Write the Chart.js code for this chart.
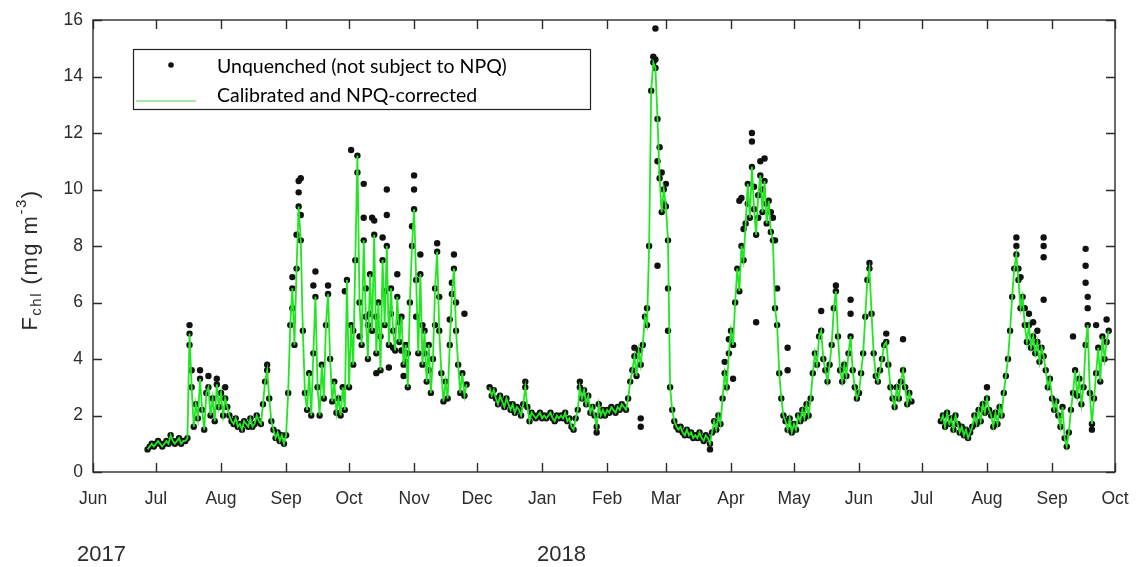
<!DOCTYPE html>
<html>
<head>
<meta charset="utf-8">
<title>Fchl time series</title>
<script src="https://cdn.jsdelivr.net/npm/chart.js@4.4.1/dist/chart.umd.min.js"></script>
<style>
  html, body { margin: 0; padding: 0; background: #ffffff; }
  #wrap { width: 1136px; height: 567px; }
</style>
</head>
<body>
<div id="wrap"><canvas id="fchl" width="1136" height="567"></canvas></div>
<script>
// ---- axis labels -------------------------------------------------------
const monthTicks = ['2017-06-01','2017-07-01','2017-08-01','2017-09-01','2017-10-01','2017-11-01',
  '2017-12-01','2018-01-01','2018-02-01','2018-03-01','2018-04-01','2018-05-01','2018-06-01',
  '2018-07-01','2018-08-01','2018-09-01','2018-10-01'];
const monthLabels = ['Jun','Jul','Aug','Sep','Oct','Nov','Dec','Jan','Feb','Mar','Apr','May','Jun',
  'Jul','Aug','Sep','Oct'];
const yearDates = ['2017-06-01', '2018-01-01'];
const yearTexts = ['2017', '2018'];
const legendLabels = ['Unquenched (not subject to NPQ)', 'Calibrated and NPQ-corrected'];

// ---- calibrated, NPQ-corrected Fchl (mg m-3), daily, three deployments ----
const startA = '2017-06-27';
const correctedA = [
  0.8,0.9,1.0,0.9,
  1.0,1.1,1.0,0.9,1.0,1.1,1.0,1.3,1.1,1.0, 1.1,1.2,1.0,1.1,1.1,1.2,4.9,3.0,1.6,2.4,
  1.9,3.3,2.2,1.5,2.8,3.0,2.0,2.6,1.8,3.1, 2.3,
  2.8,2.0,2.6,2.3,2.0,1.8,1.7,1.9,1.6,1.7, 1.5,1.8,1.7,1.6,1.9,1.6,1.7,2.0,1.8,1.7,
  2.4,3.2,3.6,2.6,1.8,1.5,1.2,1.4,1.1,1.3, 1.0,
  1.3,2.8,5.2,6.5,4.5,7.2,9.4,8.2,5.0,2.8, 2.2,3.5,2.0,4.2,6.2,3.0,2.0,3.8,2.6,5.2,
  6.3,4.0,2.5,3.2,2.1,2.6,2.0,3.0,2.2,6.8,
  3.0,5.2,3.8,7.5,11.2,6.0,4.5,8.2,5.5,4.0, 7.0,5.0,8.4,4.2,6.0,3.6,7.5,5.2,8.0,4.5,
  6.5,5.0,4.3,6.2,4.6,5.5,3.8,4.5,3.0,6.0, 8.0,
  9.3,6.8,4.2,7.0,3.8,5.0,3.2,4.5,2.8,4.0, 6.5,7.8,5.0,3.5,2.5,3.2,2.6,4.5,6.3,7.2,
  5.0,3.8,2.8,3.5,2.7,3.1
];
const startB = '2017-12-07';
const correctedB = [
  3.0,2.7,2.9,2.6,2.4,2.7,2.5,2.3,2.6,2.4, 2.2,2.4,2.1,2.3,2.2,2.0,2.4,3.0,2.3,1.8,
  2.1,2.0,1.9,2.0,2.1,
  1.9,2.0,1.9,2.0,2.1,1.9,1.8,2.0,1.9,2.0, 1.9,2.1,1.8,1.9,1.6,1.5,1.9,2.2,3.0,2.6,
  2.9,2.4,2.7,2.1,2.3,2.0,1.6,2.4,2.0,2.2, 2.0,
  2.2,2.1,2.3,2.2,2.1,2.3,2.2,2.4,2.3,2.2, 2.6,3.2,3.6,4.1,3.4,4.3,3.8,4.5,5.5,5.2,
  8.0,13.5,14.5,14.3,12.5,10.4,9.2,10.0,
  9.4,8.2,3.0,2.2,1.8,1.6,1.5,1.6,1.4,1.3, 1.5,1.3,1.4,1.2,1.3,1.2,1.4,1.2,1.1,1.3,
  1.2,1.0,1.4,1.8,1.5,2.0,1.7,2.6,3.5,3.0, 4.2,
  5.0,4.5,6.0,7.2,6.4,8.0,7.5,8.8,10.2,9.0, 10.8,9.3,8.4,9.8,10.5,9.2,10.3,8.8,9.6,8.5,
  8.2,5.8,5.2,3.5,2.6,2.0,1.8,1.5,1.9,1.4,
  1.7,1.5,2.0,1.8,2.2,1.9,2.4,2.0,2.6,3.5, 4.2,3.8,4.8,5.0,4.0,3.6,3.2,3.8,4.5,5.8,
  6.4,4.8,3.6,3.2,3.8,3.4,4.2,4.8,3.6,3.0, 2.6,
  2.8,3.5,4.2,5.5,6.8,7.2,5.6,4.2,3.4,3.2, 3.6,4.0,4.5,4.6,3.8,3.0,2.6,2.3,3.0,2.6,
  3.2,3.6,3.0,2.4,2.8,2.5
];
const startC = '2018-07-10';
const correctedC = [
  1.8,2.0,1.6,2.1,1.7,1.9,1.5,2.0,1.7,1.4, 1.6,1.3,1.5,1.2,1.4,1.6,2.0,1.7,2.2,1.8,
  2.4,2.1,
  2.6,2.2,2.0,1.6,2.1,1.7,2.3,2.0,2.8,3.4, 4.0,5.0,6.2,7.2,7.7,6.8,5.8,6.2,5.2,4.6,
  5.2,4.4,4.8,4.2,4.6,3.9,4.4,4.1,3.6,3.0, 3.3,
  2.6,2.2,2.5,2.0,1.6,2.3,1.2,0.9,1.4,2.2, 2.8,3.6,2.7,3.3,2.4,3.0,4.5,5.2,2.8,1.7,
  2.6,3.5,4.4,3.2,4.8,4.0,4.6,5.0
];

// ---- further unquenched samples (night-time and off-curve readings) ----
const unquenchedOff = [
  ['2017-07-17',5.2],['2017-07-17',4.5],['2017-07-18',3.6],['2017-07-22',3.6],['2017-07-26',3.4],
  ['2017-07-30',3.3],['2017-08-03',3.0],['2017-08-23',3.8],
  ['2017-09-04',6.9],['2017-09-04',5.8],['2017-09-06',8.4],['2017-09-07',9.9],['2017-09-07',10.3],
  ['2017-09-08',10.4],['2017-09-08',9.1],['2017-09-14',6.6],['2017-09-15',7.1],['2017-09-21',6.6],
  ['2017-09-29',6.4],
  ['2017-10-02',11.4],['2017-10-05',10.6],['2017-10-08',10.2],['2017-10-08',9.0],['2017-10-12',9.0],
  ['2017-10-13',8.9],['2017-10-17',8.3],['2017-10-19',10.0],['2017-10-19',9.1],['2017-10-24',7.0],
  ['2017-10-14',3.5],['2017-10-20',3.7],['2017-10-27',3.4],
  ['2017-10-03',5.0],['2017-10-06',4.8],['2017-10-09',6.5],['2017-10-10',5.2],['2017-10-11',5.6],
  ['2017-10-14',5.5],['2017-10-16',4.8],['2017-10-18',6.4],['2017-10-21',5.6],['2017-10-22',4.4],
  ['2017-10-25',5.3],['2017-10-26',4.3],['2017-10-28',3.9],['2017-10-29',4.2],
  ['2017-10-31',8.7],['2017-11-01',10.5],['2017-11-01',10.0],['2017-11-04',7.7],['2017-11-12',8.1],
  ['2017-11-02',5.5],['2017-11-05',5.2],['2017-11-06',4.2],['2017-11-08',3.6],['2017-11-11',5.2],
  ['2017-11-13',6.2],['2017-11-18',5.4],['2017-11-21',6.0],
  ['2017-11-19',6.7],['2017-11-20',7.7],['2017-11-25',5.6],
  ['2017-12-24',3.2],['2018-01-19',3.2],['2018-01-27',1.4],['2018-02-14',4.4],['2018-02-17',1.9],
  ['2018-02-17',1.6],['2018-02-20',5.8],['2018-02-23',14.7],['2018-02-24',15.7],['2018-02-24',14.6],
  ['2018-02-25',11.0],['2018-02-25',7.3],['2018-02-26',11.5],['2018-02-27',10.6],['2018-02-28',9.5],
  ['2018-03-01',10.2],['2018-03-02',6.5],
  ['2018-03-02',5.0],['2018-03-22',0.8],['2018-03-29',3.9],['2018-03-31',4.7],['2018-04-02',3.3],
  ['2018-04-05',9.6],['2018-04-06',9.7],['2018-04-07',8.6],['2018-04-09',9.5],['2018-04-11',12.0],
  ['2018-04-11',11.7],['2018-04-12',10.1],['2018-04-13',5.3],['2018-04-14',9.0],['2018-04-15',11.0],
  ['2018-04-16',10.0],['2018-04-17',11.1],['2018-04-18',9.5],['2018-04-20',9.2],['2018-04-21',9.0],
  ['2018-04-22',8.2],['2018-04-23',6.5],['2018-04-28',4.4],
  ['2018-04-28',3.6],['2018-05-14',5.7],['2018-05-21',6.6],['2018-05-28',6.1],['2018-05-28',5.6],
  ['2018-06-06',7.4],['2018-06-14',4.9],['2018-06-22',4.7],
  ['2018-08-01',3.0],['2018-08-15',8.3],['2018-08-15',8.0],['2018-08-16',7.2],['2018-08-17',6.9],
  ['2018-08-19',5.8],['2018-08-21',5.6],['2018-08-23',5.3],['2018-08-25',5.0],
  ['2018-08-28',8.3],['2018-08-28',8.0],['2018-08-28',7.6],['2018-08-28',6.1],['2018-09-11',4.8],
  ['2018-09-17',7.9],['2018-09-17',7.3],['2018-09-17',6.7],['2018-09-18',6.2],['2018-09-18',5.8],
  ['2018-09-20',1.5],['2018-09-22',5.2],['2018-09-27',5.4]
];

// ---- helpers -------------------------------------------------------------
const T0 = Date.UTC(2017, 5, 1);
function dayOf(s) {
  const p = s.split('-').map(Number);
  return (Date.UTC(p[0], p[1] - 1, p[2]) - T0) / 86400000;
}

const segments = [[startA, correctedA], [startB, correctedB], [startC, correctedC]];
const linePts = [];
const dotPts = [];
segments.forEach(([start, vals], k) => {
  const d0 = dayOf(start);
  vals.forEach((v, i) => {
    linePts.push({ x: d0 + i, y: v });
    dotPts.push({ x: d0 + i, y: v });
  });
  if (k < segments.length - 1) linePts.push({ x: d0 + vals.length, y: null });
});
unquenchedOff.forEach(([d, v]) => dotPts.push({ x: dayOf(d), y: v }));

const AXIS = '#2b2b2b';
const GREEN = '#22e622';
const TICK_FONT = { family: 'Liberation Sans, Arial, sans-serif', size: 17.5 };

// box, inward ticks, legend, year labels and y title
const frame = {
  id: 'frame',
  afterDraw(chart) {
    const { ctx, chartArea: a, scales: { x, y } } = chart;
    ctx.save();
    ctx.strokeStyle = AXIS;
    ctx.lineWidth = 1.4;
    ctx.strokeRect(a.left, a.top, a.right - a.left, a.bottom - a.top);
    const TL = 9;
    ctx.beginPath();
    x.ticks.forEach(t => {
      const px = Math.round(x.getPixelForValue(t.value)) + 0.5;
      ctx.moveTo(px, a.bottom); ctx.lineTo(px, a.bottom - TL);
      ctx.moveTo(px, a.top); ctx.lineTo(px, a.top + TL);
    });
    y.ticks.forEach(t => {
      const py = Math.round(y.getPixelForValue(t.value)) + 0.5;
      ctx.moveTo(a.left, py); ctx.lineTo(a.left + TL, py);
      ctx.moveTo(a.right, py); ctx.lineTo(a.right - TL, py);
    });
    ctx.stroke();

    // legend
    const lx = 133, ly = 49, lw = 457, lh = 60;
    ctx.fillStyle = '#ffffff';
    ctx.fillRect(lx, ly, lw, lh);
    ctx.lineWidth = 1.2;
    ctx.strokeStyle = '#222222';
    ctx.strokeRect(lx + 0.5, ly + 0.5, lw, lh);
    ctx.fillStyle = '#111111';
    ctx.beginPath();
    ctx.arc(171, 65, 2.8, 0, Math.PI * 2);
    ctx.fill();
    ctx.strokeStyle = '#55cc55';
    ctx.lineWidth = 1.2;
    ctx.beginPath();
    ctx.moveTo(136, 101); ctx.lineTo(196, 101);
    ctx.stroke();
    ctx.fillStyle = '#000000';
    ctx.font = '19.5px Lato, "Open Sans", sans-serif';
    ctx.textAlign = 'left';
    ctx.textBaseline = 'middle';
    ctx.fillText(legendLabels[0], 217, 67);
    ctx.fillText(legendLabels[1], 217, 96);

    // year labels under the month ticks
    ctx.fillStyle = AXIS;
    ctx.font = '22px "Liberation Sans", Arial, sans-serif';
    const yearShift = [-16, -5];
    yearDates.forEach((d, i) => {
      ctx.fillText(yearTexts[i], x.getPixelForValue(dayOf(d)) + yearShift[i], 555);
    });

    // y axis title: F_chl (mg m^-3)
    const big = '22px "Liberation Sans", Arial, sans-serif';
    const small = '15px "Liberation Sans", Arial, sans-serif';
    const parts = [['F', big, 0], ['chl', small, 6], [' (mg m', big, 0], ['-3', small, -9], [')', big, 0]];
    ctx.letterSpacing = '1.5px';
    let total = 0;
    parts.forEach(p => { ctx.font = p[1]; total += ctx.measureText(p[0]).width; });
    ctx.translate(31, (a.top + a.bottom) / 2 + 14);
    ctx.rotate(-Math.PI / 2);
    let cx = -total / 2;
    parts.forEach(p => {
      ctx.font = p[1];
      ctx.fillText(p[0], cx, p[2]);
      cx += ctx.measureText(p[0]).width;
    });
    ctx.restore();
  }
};

new Chart(document.getElementById('fchl'), {
  type: 'scatter',
  data: {
    datasets: [
      {
        label: legendLabels[1],
        data: linePts,
        showLine: true,
        spanGaps: false,
        borderColor: GREEN,
        borderWidth: 1.8,
        pointRadius: 0,
        tension: 0,
        order: 0
      },
      {
        label: legendLabels[0],
        data: dotPts,
        showLine: false,
        pointRadius: 3.2,
        pointBorderWidth: 0,
        pointBackgroundColor: '#111111',
        order: 1
      }
    ]
  },
  options: {
    responsive: false,
    animation: false,
    layout: { padding: { top: 20, right: 21, left: 0, bottom: 0 } },
    plugins: { legend: { display: false }, tooltip: { enabled: false } },
    scales: {
      x: {
        type: 'linear',
        min: 0,
        max: dayOf('2018-10-01'),
        grid: { display: false, drawTicks: false },
        border: { display: false },
        afterBuildTicks: s => { s.ticks = monthTicks.map(d => ({ value: dayOf(d) })); },
        afterFit: s => { s.height = 95; s.paddingLeft = 0; s.paddingRight = 0; },
        ticks: {
          autoSkip: false, maxRotation: 0, minRotation: 0, padding: 17,
          color: AXIS, font: TICK_FONT,
          callback: (v, i) => monthLabels[i]
        }
      },
      y: {
        min: 0,
        max: 16,
        grid: { display: false, drawTicks: false },
        border: { display: false },
        afterFit: s => { s.width = 93; s.paddingTop = 0; s.paddingBottom = 0; },
        ticks: { stepSize: 2, padding: 10, color: AXIS, font: TICK_FONT }
      }
    }
  },
  plugins: [frame]
});
</script>
</body>
</html>
